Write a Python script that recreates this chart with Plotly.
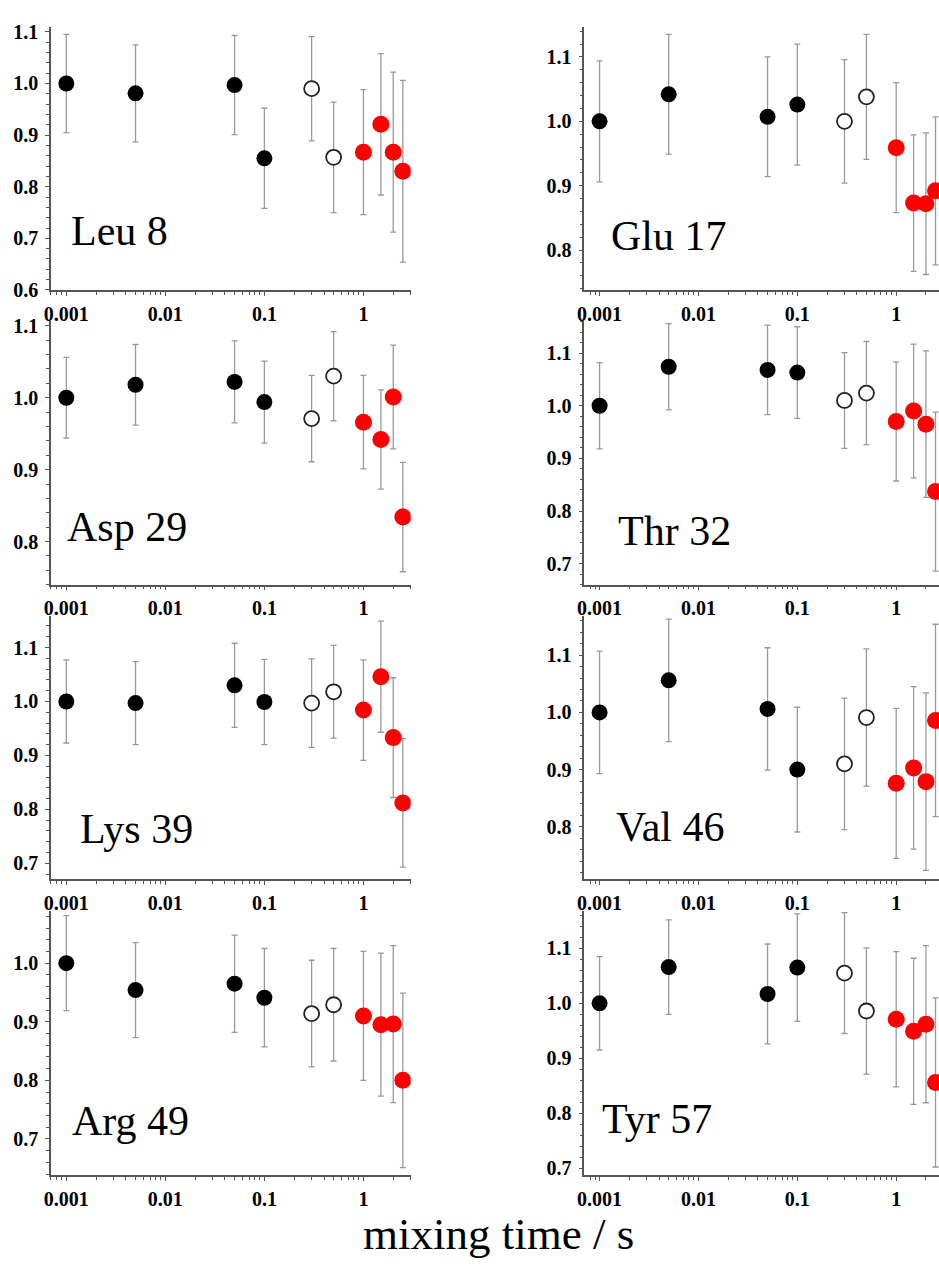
import plotly.graph_objects as go

# ---------------- data ----------------
mixing_time = [0.001, 0.005, 0.05, 0.1, 0.3, 0.5, 1.0, 1.5, 2.0, 2.5]
# point style groups: 4 filled black, 2 open, 4 filled red
group = ["black", "black", "black", "black", "open", "open", "red", "red", "red", "red"]

residues = ["Leu 8", "Glu 17", "Asp 29", "Thr 32", "Lys 39", "Val 46", "Arg 49", "Tyr 57"]

leu8 = [1.000, 0.981, 0.997, 0.855, 0.990, 0.857, 0.867, 0.921, 0.867, 0.830]
leu8_err = [0.095, 0.094, 0.096, 0.097, 0.101, 0.107, 0.121, 0.137, 0.155, 0.176]

glu17 = [1.000, 1.042, 1.007, 1.026, 1.000, 1.038, 0.959, 0.873, 0.872, 0.892]
glu17_err = [0.094, 0.093, 0.093, 0.094, 0.096, 0.097, 0.101, 0.106, 0.110, 0.115]

asp29 = [1.000, 1.018, 1.022, 0.994, 0.971, 1.030, 0.966, 0.942, 1.001, 0.834]
asp29_err = [0.056, 0.056, 0.057, 0.057, 0.060, 0.062, 0.065, 0.069, 0.072, 0.076]

thr32 = [1.000, 1.074, 1.068, 1.063, 1.010, 1.024, 0.970, 0.990, 0.965, 0.837]
thr32_err = [0.082, 0.082, 0.085, 0.087, 0.091, 0.098, 0.113, 0.127, 0.139, 0.151]

lys39 = [1.000, 0.997, 1.030, 0.999, 0.997, 1.018, 0.984, 1.046, 0.933, 0.812]
lys39_err = [0.077, 0.077, 0.078, 0.079, 0.082, 0.086, 0.093, 0.103, 0.111, 0.119]

val46 = [1.000, 1.056, 1.006, 0.900, 0.910, 0.991, 0.876, 0.903, 0.879, 0.986]
val46_err = [0.107, 0.107, 0.107, 0.109, 0.115, 0.120, 0.131, 0.142, 0.155, 0.168]

arg49 = [1.000, 0.954, 0.965, 0.941, 0.914, 0.929, 0.910, 0.895, 0.896, 0.800]
arg49_err = [0.081, 0.081, 0.083, 0.084, 0.091, 0.096, 0.110, 0.122, 0.134, 0.149]

tyr57 = [1.000, 1.066, 1.017, 1.065, 1.055, 0.986, 0.971, 0.949, 0.962, 0.856]
tyr57_err = [0.085, 0.086, 0.091, 0.098, 0.110, 0.115, 0.123, 0.133, 0.143, 0.154]

values = [leu8, glu17, asp29, thr32, lys39, val46, arg49, tyr57]
errors = [leu8_err, glu17_err, asp29_err, thr32_err, lys39_err, val46_err, arg49_err, tyr57_err]

x_tickvals = [0.001, 0.01, 0.1, 1]
x_ticktext = ["0.001", "0.01", "0.1", "1"]

# ---------------- layout geometry ----------------
W, H = 939, 1273
SERIF = "Liberation Serif"

y_ranges = [[0.6, 1.11], [0.738, 1.147],
            [0.74, 1.106], [0.66, 1.16],
            [0.67, 1.158], [0.708, 1.168],
            [0.638, 1.089], [0.687, 1.168]]

col_px = [(44.3, 406.7), (581.7, 939.0)]
x_ranges = [[-3.155, 0.477], [-3.154, 0.433]]
row_px = [(20, 287), (319, 586), (618, 885), (917, 1185)]
label_px = [(62, 243), (607, 248), (58, 543), (614, 547),
            (72, 849), (612, 847), (63, 1145), (597, 1143)]

minor_x = [k * 10 ** e for e in range(-4, 1) for k in range(2, 10)]

styles = {
    "black": dict(color="black", size=16, line=dict(color="black", width=0)),
    "open": dict(color="white", size=15, line=dict(color="#222222", width=1.8)),
    "red": dict(color="#ff0000", size=17, line=dict(color="#ff0000", width=0)),
}

fig = go.Figure()
layout = dict(
    width=W, height=H,
    margin=dict(l=0, r=0, t=0, b=0),
    paper_bgcolor="white", plot_bgcolor="white",
    showlegend=False,
    annotations=[],
)

axis_color = "#555555"
tick_font = dict(family=SERIF, size=20, color="black", weight="bold")
for i, name in enumerate(residues):
    row, col = divmod(i, 2)
    n = i + 1
    xa = "x" if n == 1 else f"x{n}"
    ya = "y" if n == 1 else f"y{n}"
    for g in ["black", "open", "red"]:
        idx = [k for k, gg in enumerate(group) if gg == g]
        fig.add_trace(go.Scatter(
            x=[mixing_time[k] for k in idx],
            y=[values[i][k] for k in idx],
            mode="markers",
            marker=dict(symbol="circle", **styles[g]),
            error_y=dict(type="data", array=[errors[i][k] for k in idx],
                         visible=True, color="#999999", thickness=1.3, width=3),
            xaxis=xa, yaxis=ya, hoverinfo="skip",
        ))
    x0, x1 = col_px[col]
    t, b = row_px[row]
    layout[f"xaxis{n if n > 1 else ''}"] = dict(
        type="log", domain=[x0 / W, x1 / W], range=x_ranges[col],
        anchor=ya, showgrid=False, zeroline=False,
        showline=True, linecolor=axis_color, linewidth=1.5,
        ticks="outside", ticklen=4, tickwidth=1.2, tickcolor=axis_color,
        tickmode="array", tickvals=x_tickvals, ticktext=x_ticktext,
        tickfont=tick_font, ticklabelstandoff=1,
        minor=dict(tickmode="array", tickvals=minor_x, ticks="outside",
                   ticklen=3, tickwidth=1, tickcolor=axis_color, showgrid=False),
    )
    layout[f"yaxis{n if n > 1 else ''}"] = dict(
        domain=[1 - b / H, 1 - t / H], range=y_ranges[i],
        anchor=xa, showgrid=False, zeroline=False,
        showline=True, linecolor=axis_color, linewidth=1.5,
        ticks="outside", ticklen=4, tickwidth=1.2, tickcolor=axis_color,
        dtick=0.1, tick0=0, tickformat=".1f",
        tickfont=tick_font, ticklabelstandoff=3,
        minor=dict(dtick=0.02, tick0=0, ticks="outside", ticklen=3,
                   tickwidth=1, tickcolor=axis_color, showgrid=False),
    )
    lx, ly = label_px[i]
    layout["annotations"].append(dict(
        text=name, xref="paper", yref="paper",
        x=lx / W, y=1 - (ly + 10) / H, xanchor="left", yanchor="bottom",
        showarrow=False, font=dict(family=SERIF, size=42, color="black"),
    ))

layout["annotations"].append(dict(
    text="mixing time / s", xref="paper", yref="paper",
    x=495 / W, y=1 - 1272 / H, xanchor="center", yanchor="bottom",
    showarrow=False, font=dict(family=SERIF, size=45, color="black"),
))

fig.update_layout(**layout)
fig.write_html("out.html")
